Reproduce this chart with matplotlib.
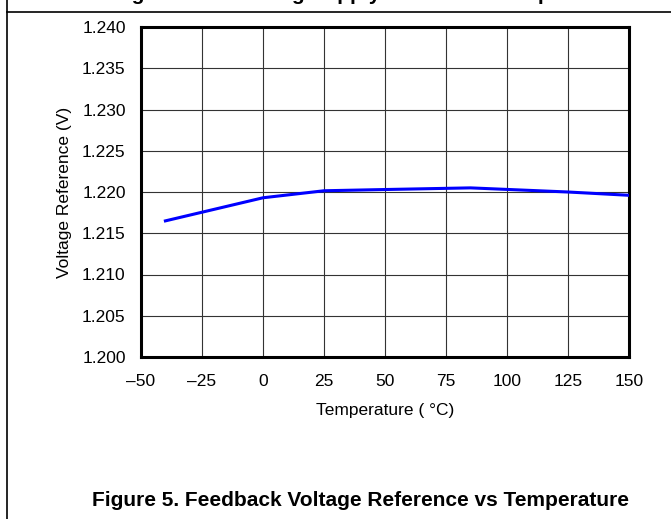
import matplotlib
matplotlib.use("Agg")
import matplotlib.pyplot as plt
from matplotlib.lines import Line2D

plt.rcParams['font.family'] = ['Liberation Sans', 'DejaVu Sans']

# data
temperature = [-40, 0, 25, 50, 85, 125, 150]
vref = [1.2165, 1.2193, 1.22015, 1.2203, 1.2205, 1.2200, 1.2196]

x_ticks = [-50, -25, 0, 25, 50, 75, 100, 125, 150]
x_labels = ['\u201350', '\u201325', '0', '25', '50', '75', '100', '125', '150']
y_ticks = [1.200, 1.205, 1.210, 1.215, 1.220, 1.225, 1.230, 1.235, 1.240]

W, H = 671, 519
fig = plt.figure(figsize=(W / 100, H / 100), dpi=100)
ax = fig.add_axes([141 / W, 1 - 357 / H, (629 - 141) / W, (357 - 27) / H])

ax.plot(temperature, vref, color='#0000ff', lw=2.2, zorder=3)
ax.set_xlim(-50, 150)
ax.set_ylim(1.200, 1.240)
ax.set_xticks(x_ticks)
ax.set_xticklabels(x_labels)
ax.set_yticks(y_ticks)
ax.set_yticklabels([f'{v:.3f}' for v in y_ticks])
ax.tick_params(axis='x', length=0, labelsize=12.5, pad=12)
ax.tick_params(axis='y', length=0, labelsize=12.5, pad=11)
ax.grid(True, color='#333333', lw=0.8)
for s in ax.spines.values():
    s.set_linewidth(2.2)
ax.set_xlabel('Temperature ( \u00b0C)', fontsize=12.5, labelpad=10)
ax.set_ylabel('Voltage Reference (V)', fontsize=12.5, labelpad=7)

# page frame lines
fig.add_artist(Line2D([7 / W, 7 / W], [0, 1], color='black', lw=1.2))
fig.add_artist(Line2D([7 / W, 1], [1 - 12 / H, 1 - 12 / H], color='black', lw=1.2))

fig.text(367 / W, 1 - 0.5 / H, 'Figure 4. Switching Supply Current vs Temperature',
         ha='center', va='baseline', fontsize=15, fontweight='bold')
fig.text(361 / W, 1 - 500 / H, 'Figure 5. Feedback Voltage Reference vs Temperature',
         ha='center', va='center', fontsize=15, fontweight='bold')

fig.savefig('out.png', dpi=100)
